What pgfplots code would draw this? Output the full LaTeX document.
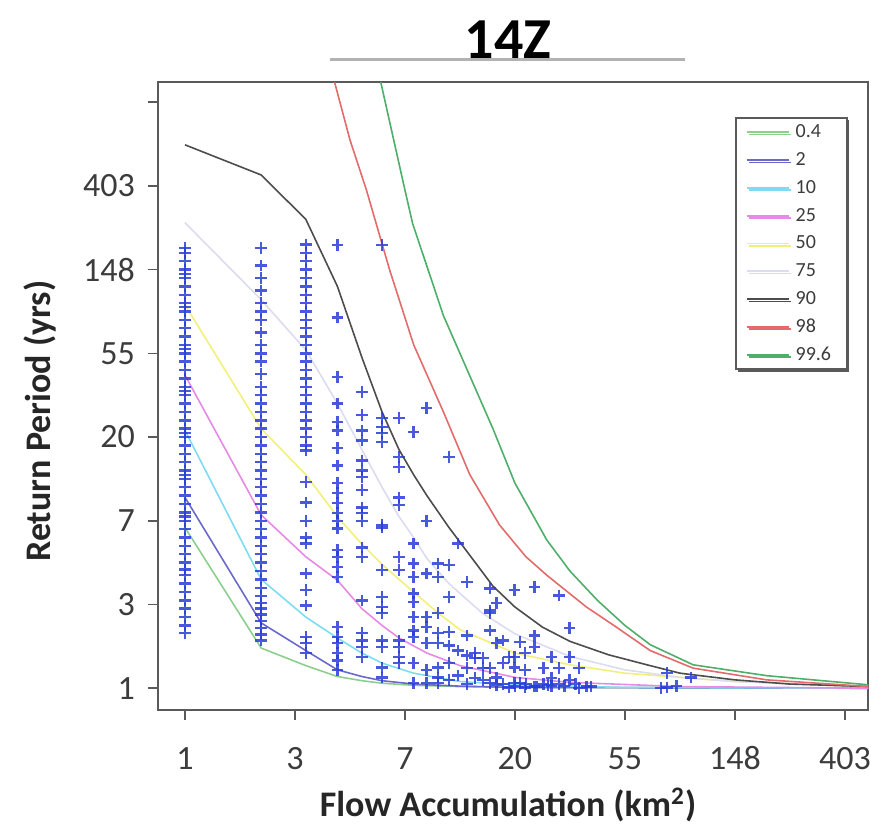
\documentclass[border=0pt]{standalone}
\usepackage{fontspec}
\setmainfont{Carlito}
\usepackage{pgfplots}
\pgfplotsset{compat=1.18}
\usetikzlibrary{shadows}

\definecolor{cA}{RGB}{140,207,140}   % 0.4
\definecolor{cB}{RGB}{106,106,203}   % 2
\definecolor{cC}{RGB}{127,220,240}   % 10
\definecolor{cD}{RGB}{229,138,229}   % 25
\definecolor{cE}{RGB}{242,240,122}   % 50
\definecolor{cF}{RGB}{220,220,240}   % 75
\definecolor{cG}{RGB}{77,77,77}      % 90
\definecolor{cH}{RGB}{227,107,107}   % 98
\definecolor{cI}{RGB}{79,174,106}    % 99.6
\definecolor{pts}{RGB}{40,60,215}
\definecolor{frame}{RGB}{90,90,90}
\definecolor{ticktext}{RGB}{60,60,60}

\begin{document}
\begin{tikzpicture}
\useasboundingbox (-79pt,-61pt) rectangle (356.5pt,355pt);
\begin{axis}[
    scale only axis,
    width=355pt, height=314pt,
    at={(0,0)}, anchor=south west,
    xmin=-0.245, xmax=6.21,
    ymin=-0.26, ymax=7.24,
    xtick={0,1,2,3,4,5,6},
    xticklabels={1,3,7,20,55,148,403},
    ytick={0,1,2,3,4,5,6,7},
    yticklabels={1,3,7,20,55,148,403,{}},
    tick align=outside,
    major tick length=5pt,
    tick style={frame, line width=0.8pt},
    xtick pos=bottom, ytick pos=left,
    axis line style={frame, line width=1pt},
    /pgf/number format/assume math mode=true,
    ticklabel style={font=\fontsize{17}{19}\selectfont, text=ticktext},
    xticklabel style={anchor=north, text height=12pt, text depth=0pt, yshift=-9pt},
    yticklabel style={xshift=-3pt},
    xlabel={Flow Accumulation (km\textsuperscript{2})},
    ylabel={Return Period (yrs)},
    label style={font=\bfseries\fontsize{18}{20}\selectfont, text=black!85},
    xlabel style={at={(axis description cs:0.493,-0.151)}, anchor=center},
    ylabel style={at={(axis description cs:-0.166,0.46)}, anchor=center},
    legend cell align=left,
    legend style={at={(axis description cs:0.8127,0.9443)}, anchor=north west,
        draw=frame, line width=0.8pt, fill=white,
        drop shadow={shadow xshift=1.2pt, shadow yshift=-1.2pt, fill=frame, opacity=1},
        font=\fontsize{10}{11}\selectfont, text=ticktext,
        row sep=5.4pt, inner xsep=5pt, inner ysep=3pt,
        nodes={inner ysep=0pt, inner xsep=3pt, text height=7pt, text depth=1.5pt}},
    legend image code/.code={\draw[#1, line width=0.9pt] (0pt,0pt) -- (21pt,0pt);},
    every axis plot/.append style={line width=0.8pt},
]
% curves (ln of flow accumulation, ln of return period)
\addplot[cA] coordinates {(0,1.92) (0.693,0.48) (1.099,0.27) (1.386,0.14) (1.609,0.09) (1.792,0.06) (2.079,0.035) (2.5,0.02) (3,0.01) (6.22,0)};
\addlegendentry{0.4}
\addplot[cB] coordinates {(0,2.28) (0.693,0.78) (1.099,0.45) (1.386,0.22) (1.609,0.14) (1.792,0.09) (2.079,0.05) (2.5,0.025) (3,0.01) (6.22,0)};
\addlegendentry{2}
\addplot[cC] coordinates {(0,3.08) (0.693,1.3) (1.099,0.85) (1.386,0.6) (1.609,0.42) (1.792,0.3) (2.079,0.18) (2.5,0.08) (3,0.04) (4,0.01) (6.22,0)};
\addlegendentry{10}
\addplot[cD] coordinates {(0,3.74) (0.693,2.07) (1.099,1.57) (1.386,1.29) (1.609,0.95) (1.792,0.75) (1.946,0.6) (2.2,0.42) (2.5,0.27) (3,0.13) (3.5,0.07) (4.5,0.02) (6.22,0)};
\addlegendentry{25}
\addplot[cE] coordinates {(0,4.58) (0.693,3.1) (1.099,2.55) (1.386,2.05) (1.609,1.72) (1.792,1.48) (1.946,1.3) (2.079,1.15) (2.3,0.9) (2.5,0.7) (3,0.42) (3.5,0.28) (4,0.18) (5,0.08) (6.22,0.02)};
\addlegendentry{50}
\addplot[cF] coordinates {(0,5.56) (0.693,4.64) (1.099,4.04) (1.386,3.4) (1.609,2.85) (1.792,2.4) (1.946,2.05) (2.079,1.8) (2.2,1.55) (2.4,1.25) (2.7,0.9) (3,0.65) (3.5,0.38) (4,0.22) (4.5,0.13) (5,0.08) (6.22,0.02)};
\addlegendentry{75}
\addplot[cG] coordinates {(0,6.49) (0.693,6.13) (1.099,5.6) (1.386,4.8) (1.609,3.95) (1.792,3.3) (1.946,2.85) (2.079,2.55) (2.2,2.3) (2.4,1.92) (2.6,1.57) (2.8,1.22) (3.0,0.97) (3.25,0.73) (3.5,0.56) (3.85,0.4) (4.2,0.28) (4.5,0.18) (5,0.1) (5.5,0.05) (6.22,0.02)};
\addlegendentry{90}
\addplot[cH] coordinates {(1.3,7.6) (1.36,7.24) (1.5,6.55) (1.65,5.95) (1.86,5.0) (2.08,4.1) (2.35,3.3) (2.59,2.55) (2.86,1.95) (3.1,1.57) (3.29,1.35) (3.65,0.97) (3.9,0.75) (4.23,0.45) (4.62,0.24) (5.29,0.1) (6.22,0.02)};
\addlegendentry{98}
\addplot[cI] coordinates {(1.7,7.7) (1.78,7.24) (2.0,5.95) (2.07,5.55) (2.35,4.45) (2.55,3.85) (2.8,3.1) (3.0,2.45) (3.29,1.77) (3.5,1.4) (3.75,1.05) (4.0,0.75) (4.23,0.52) (4.62,0.28) (5.29,0.15) (6.22,0.04)};
\addlegendentry{99.6}

% observed points
\addplot[forget plot, only marks, mark=+, mark size=2.9pt, pts, line width=1.2pt, opacity=0.85] coordinates {
(0,0.66) (0,0.75) (0,0.85) (0,0.95) (0,1.05) (0,1.15) (0,1.25) (0,1.35) (0,1.42) (0,1.5)
(0,1.6) (0,1.7) (0,1.8) (0,1.9) (0,2.0) (0,2.1) (0,2.2) (0,2.3) (0,2.4) (0,2.5)
(0,2.6) (0,2.7) (0,2.8) (0,2.9) (0,3.0) (0,3.1) (0,3.2) (0,3.3) (0,3.4) (0,3.5)
(0,3.6) (0,3.7) (0,3.8) (0,3.9) (0,4.0) (0,4.1) (0,4.2) (0,4.3) (0,4.4) (0,4.5)
(0,4.6) (0,4.7) (0,4.8) (0,4.9) (0,5.0) (0,5.1) (0,5.2) (0,5.26)
(0,2.05) (0,2.55) (0,3.05) (0,3.55) (0,4.05) (0,4.55) (0,4.95)
(0.693,0.57) (0.693,0.64) (0.693,0.72) (0.693,0.8) (0.693,0.88) (0.693,0.95) (0.693,1.02) (0.693,1.1)
(0.693,1.2) (0.693,1.3) (0.693,1.4) (0.693,1.5) (0.693,1.6) (0.693,1.7) (0.693,1.8) (0.693,1.9)
(0.693,2.0) (0.693,2.1) (0.693,2.2) (0.693,2.3) (0.693,2.4) (0.693,2.5) (0.693,2.6) (0.693,2.7)
(0.693,2.8) (0.693,2.9) (0.693,3.0) (0.693,3.1) (0.693,3.2) (0.693,3.3) (0.693,3.4) (0.693,3.5)
(0.693,3.6) (0.693,3.75) (0.693,3.9) (0.693,4.0) (0.693,4.1) (0.693,4.25) (0.693,4.4) (0.693,4.5)
(0.693,4.6) (0.693,4.75) (0.693,4.9) (0.693,5.05) (0.693,5.26)
(1.099,5.3) (1.099,5.2) (1.099,5.1) (1.099,5.0) (1.099,4.9) (1.099,4.8) (1.099,4.7) (1.099,4.6)
(1.099,4.5) (1.099,4.4) (1.099,4.3) (1.099,4.2) (1.099,4.1) (1.099,4.0) (1.099,3.9) (1.099,3.8)
(1.099,3.7) (1.099,3.6) (1.099,3.5) (1.099,3.4) (1.099,3.3) (1.099,3.2) (1.099,3.1) (1.099,3.0)
(1.099,2.9) (1.099,2.84) (1.099,2.46) (1.099,2.22) (1.099,2.0) (1.099,1.8) (1.099,1.73) (1.099,1.37)
(1.099,1.17) (1.099,0.99) (1.099,0.61) (1.099,0.54) (1.099,0.42)
(1.386,5.29) (1.386,4.43) (1.386,3.72) (1.386,3.4) (1.386,3.18) (1.386,3.08) (1.386,2.87) (1.386,2.66)
(1.386,2.45) (1.386,2.33) (1.386,2.21) (1.386,2.09) (1.386,2.0) (1.386,1.91) (1.386,1.65) (1.386,1.57)
(1.386,1.45) (1.386,1.33) (1.386,0.73) (1.386,0.61) (1.386,0.54) (1.386,0.42) (1.386,0.33) (1.386,0.22)
(1.609,3.54) (1.609,3.26) (1.609,3.08) (1.609,2.96) (1.609,2.72) (1.609,2.6) (1.609,2.52) (1.609,2.37)
(1.609,2.16) (1.609,2.09) (1.609,2.0) (1.609,1.68) (1.609,1.57) (1.609,1.05) (1.609,0.66) (1.609,0.57)
(1.609,0.49) (1.609,0.37)
(1.792,5.29) (1.792,3.23) (1.792,3.12) (1.792,3.05) (1.792,2.94) (1.792,1.95) (1.792,1.92) (1.792,1.41)
(1.792,1.09) (1.792,0.97) (1.792,0.9) (1.792,0.57) (1.792,0.49) (1.792,0.25) (1.792,0.13)
(1.946,3.23) (1.946,2.76) (1.946,2.64) (1.946,2.28) (1.946,2.19) (1.946,1.57) (1.946,1.41) (1.946,0.57)
(1.946,0.49) (1.946,0.37) (1.946,0.3)
(2.079,3.06) (2.079,1.73) (2.079,1.49) (2.079,1.33) (2.079,1.13) (2.079,1.03) (2.079,0.85) (2.079,0.69)
(2.079,0.61) (2.079,0.3) (2.079,0.06)
(2.197,3.35) (2.197,2.0) (2.197,1.37) (2.197,0.85) (2.197,0.73) (2.197,0.54) (2.197,0.22) (2.197,0.06)
(2.303,1.49) (2.303,1.33) (2.303,0.9) (2.303,0.66) (2.303,0.54) (2.303,0.25) (2.303,0.13) (2.303,0.06)
(2.398,2.76) (2.398,1.47) (2.398,1.09) (2.398,0.67) (2.398,0.51) (2.398,0.3) (2.398,0.1)
(2.485,1.73) (2.485,0.45) (2.485,0.15)
(2.565,1.27) (2.565,0.63) (2.565,0.39) (2.565,0.24) (2.565,0.05)
(2.639,0.42) (2.639,0.36) (2.639,0.12)
(2.708,0.36) (2.708,0.24) (2.708,0.1)
(2.773,1.19) (2.773,0.93) (2.773,0.9) (2.773,0.69) (2.773,0.24) (2.773,0.06)
(2.833,1.02) (2.833,0.54) (2.833,0.13) (2.833,0.04)
(2.89,0.57) (2.89,0.3) (2.89,0.05)
(2.944,0.37) (2.944,0.01)
(2.996,1.17) (2.996,0.37) (2.996,0.25) (2.996,0.06)
(3.045,0.55) (3.045,0.06)
(3.091,0.42) (3.091,0.22) (3.091,0.01)
(3.178,1.21) (3.178,0.63) (3.178,0.49) (3.178,0.02)
(3.258,0.24) (3.258,0.05)
(3.332,0.37) (3.332,0.12) (3.332,0.03)
(3.401,1.11) (3.401,0.24) (3.401,0.05)
(3.497,0.72) (3.497,0.37) (3.497,0.1)
(3.584,0.24) (3.584,0.0) (3.689,0.02)
(3.0,0.03) (3.1,0.05) (3.2,0.02) (3.3,0.04) (3.45,0.03) (3.55,0.05) (3.65,0.02)
(4.33,0.0) (4.38,0.18) (4.38,0.01) (4.47,0.03) (4.6,0.13)
};
\end{axis}
\node[font=\bfseries\fontsize{29}{31}\selectfont] at (175pt,335pt) {14Z};
\draw[black!30, line width=1.5pt] (86pt,325.5pt) -- (263.5pt,325.5pt);
\end{tikzpicture}
\end{document}
